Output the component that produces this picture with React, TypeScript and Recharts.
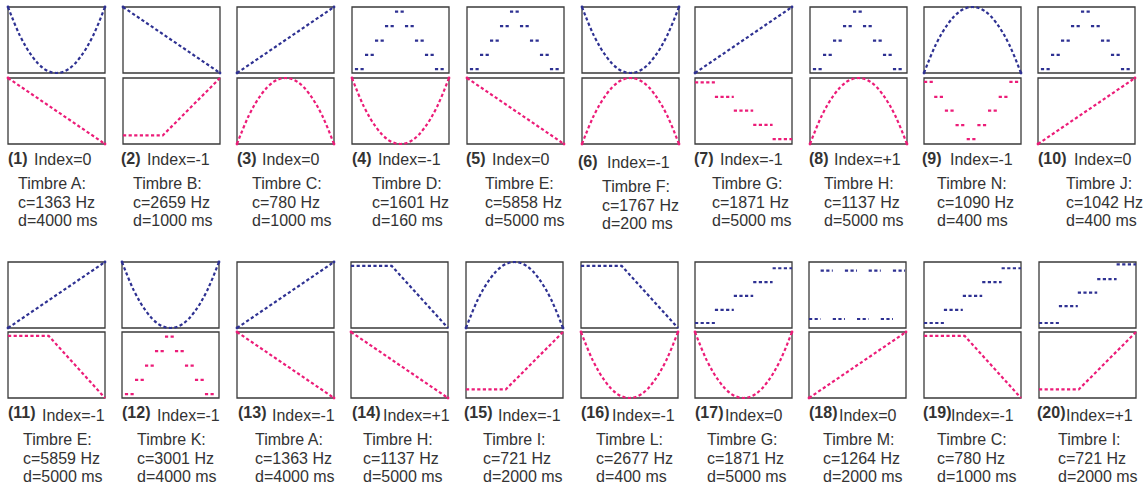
import { LineChart, Line, XAxis, YAxis, ReferenceArea } from 'recharts';

const BLUE = '#2e3192';
const PINK = '#ec1c78';
const INK = '#333333';

const curveX = [0, 0.125, 0.25, 0.375, 0.5, 0.625, 0.75, 0.875, 1];
const bowlY = [1, 0.56, 0.25, 0.06, 0, 0.06, 0.25, 0.56, 1];
const archY = [0, 0.44, 0.75, 0.94, 1, 0.94, 0.75, 0.44, 0];

const rampX = [0, 1];
const upY = [0, 1];
const downY = [1, 0];

const kneeRiseX = [0, 0.41, 1];
const kneeRiseY = [0.13, 0.13, 1];
const kneeFallX = [0, 0.42, 1];
const kneeFallY = [0.94, 0.94, 0];

// step shapes: segment edges + one level per segment
const pyramidEdges = [0.03, 0.134, 0.237, 0.34, 0.443, 0.546, 0.649, 0.752, 0.855, 0.958];
const pyramidY = [0.06, 0.275, 0.49, 0.71, 0.93, 0.71, 0.49, 0.275, 0.06];
const valleyEdges = [0, 0.105, 0.215, 0.325, 0.44, 0.55, 0.66, 0.77, 0.88, 0.99];
const valleyY = [0.94, 0.715, 0.505, 0.285, 0.075, 0.285, 0.505, 0.715, 0.94];
const stairEdges = [0, 0.205, 0.4, 0.6, 0.8, 1];
const stairDownY = [0.935, 0.715, 0.505, 0.29, 0.075];
const stairUpY = [0.076, 0.275, 0.487, 0.695, 0.905];
const stairUp2Y = [0.076, 0.33, 0.535, 0.74, 0.965];
const toggleEdges = [0, 0.12, 0.245, 0.37, 0.495, 0.615, 0.74, 0.865, 0.99];
const toggleY = [0.136, 0.87, 0.136, 0.87, 0.136, 0.87, 0.136, 0.87];

// per panel
const indexLabels = ['0', '-1', '0', '-1', '0', '-1', '-1', '+1', '-1', '0', '-1', '-1', '-1', '+1', '-1', '-1', '0', '0', '-1', '+1'];
const timbres = ['A', 'B', 'C', 'D', 'E', 'F', 'G', 'H', 'N', 'J', 'E', 'K', 'A', 'H', 'I', 'L', 'G', 'M', 'C', 'I'];
const centroidHz = [1363, 2659, 780, 1601, 5858, 1767, 1871, 1137, 1090, 1042, 5859, 3001, 1363, 1137, 721, 2677, 1871, 1264, 780, 721];
const durationMs = [4000, 1000, 1000, 160, 5000, 200, 5000, 5000, 400, 400, 5000, 4000, 4000, 5000, 2000, 400, 5000, 2000, 1000, 2000];
const topShape = ['bowl', 'down', 'up', 'pyramid', 'pyramid', 'bowl', 'up', 'pyramid', 'arch', 'pyramid', 'up', 'bowl', 'up', 'kneeFall', 'arch', 'kneeFall', 'stairUp', 'toggle', 'stairUp', 'stairUp2'];
const bottomShape = ['down', 'kneeRise', 'arch', 'bowl', 'down', 'arch', 'stairDown', 'arch', 'valley', 'up', 'kneeFall', 'pyramid', 'down', 'down', 'kneeRise', 'bowl', 'bowl', 'up', 'kneeFall', 'kneeRise'];

type Pt = { x: number; y: number | null };

const zipPts = (xs: number[], ys: number[]): Pt[] => xs.map((x, i) => ({ x, y: ys[i] }));
const stepPts = (edges: number[], ys: number[]): Pt[] =>
  ys.flatMap((y, i) => [
    { x: edges[i], y },
    { x: edges[i + 1], y },
    { x: edges[i + 1], y: null },
  ]);

const shapes: Record<string, { data: Pt[]; curve: 'linear' | 'monotone'; ends: boolean }> = {
  bowl: { data: zipPts(curveX, bowlY), curve: 'monotone', ends: true },
  arch: { data: zipPts(curveX, archY), curve: 'monotone', ends: true },
  up: { data: zipPts(rampX, upY), curve: 'linear', ends: true },
  down: { data: zipPts(rampX, downY), curve: 'linear', ends: true },
  kneeRise: { data: zipPts(kneeRiseX, kneeRiseY), curve: 'linear', ends: false },
  kneeFall: { data: zipPts(kneeFallX, kneeFallY), curve: 'linear', ends: false },
  pyramid: { data: stepPts(pyramidEdges, pyramidY), curve: 'linear', ends: false },
  valley: { data: stepPts(valleyEdges, valleyY), curve: 'linear', ends: false },
  stairDown: { data: stepPts(stairEdges, stairDownY), curve: 'linear', ends: false },
  stairUp: { data: stepPts(stairEdges, stairUpY), curve: 'linear', ends: false },
  stairUp2: { data: stepPts(stairEdges, stairUp2Y), curve: 'linear', ends: false },
  toggle: { data: stepPts(toggleEdges, toggleY), curve: 'linear', ends: false },
};

// layout
const BOX_W = 97;
const BOX_H = 66;
const PAD = 3;
const boxLeft = [8, 123, 237, 352, 467, 582, 695, 810, 924, 1038, 8, 122, 237, 351, 466, 581, 695, 809, 924, 1039];
const rowTop = [7, 262];
const rowBottom = [78, 332];
const numX = [8, 121, 237, 352, 466, 578, 694, 809, 922, 1038, 8, 122, 238, 352, 464, 581, 695, 809, 923, 1037];
const idxX = [34, 147, 262, 378, 492, 607, 720, 834, 950, 1074, 42, 157, 272, 383, 498, 612, 725, 839, 951, 1066];
const timX = [18, 133, 252, 372, 485, 602, 712, 824, 937, 1066, 23, 137, 255, 363, 483, 596, 707, 823, 937, 1058];
const numBase = [164, 418];
const idxBase = [165, 421];
const timBase = [[189, 208, 226], [445, 464, 482]];

function Mini({ left, top, shape, color }: { left: number; top: number; shape: string; color: string }) {
  const s = shapes[shape];
  const last = s.data.length - 1;
  const endDot = (p: any) =>
    s.ends && (p.index === 0 || p.index === last) ? (
      <circle key={p.index} cx={p.cx} cy={p.cy} r={1.4} fill={color} />
    ) : (
      <g key={p.index} />
    );
  return (
    <div style={{ position: 'absolute', left: left - PAD, top: top - PAD }}>
      <LineChart
        width={BOX_W + 2 * PAD}
        height={BOX_H + 2 * PAD}
        data={s.data}
        margin={{ top: PAD, right: PAD, bottom: PAD, left: PAD }}
      >
        <XAxis type="number" dataKey="x" domain={[0, 1]} hide />
        <YAxis type="number" domain={[0, 1]} hide />
        <ReferenceArea x1={0} x2={1} y1={0} y2={1} fill="none" stroke="#3a3a3a" strokeWidth={1.3} />
        <Line
          type={s.curve}
          dataKey="y"
          stroke={color}
          strokeWidth={2.2}
          strokeDasharray="3.2 2.4"
          dot={endDot}
          activeDot={false}
          connectNulls={false}
          isAnimationActive={false}
        />
      </LineChart>
    </div>
  );
}

export default function App() {
  const font = '"Liberation Sans", Arial, sans-serif';
  return (
    <div style={{ position: 'absolute', left: 0, top: 0, width: 1144, height: 489, background: '#fff', overflow: 'hidden' }}>
      {boxLeft.map((x, i) => {
        const row = i < 10 ? 0 : 1;
        return (
          <div key={i}>
            <Mini left={x} top={rowTop[row]} shape={topShape[i]} color={BLUE} />
            <Mini left={x} top={rowBottom[row]} shape={bottomShape[i]} color={PINK} />
          </div>
        );
      })}
      <svg width={1144} height={489} style={{ position: 'absolute', left: 0, top: 0, pointerEvents: 'none' }}>
        {timbres.map((t, i) => {
          const row = i < 10 ? 0 : 1;
          const dy = i === 5 ? 3 : 0;
          return (
            <g key={i} fontFamily={font} fontSize={16} fill={INK}>
              <text x={numX[i]} y={numBase[row] + dy} fontWeight="bold">({i + 1})</text>
              <text x={idxX[i]} y={idxBase[row] + dy}>Index={indexLabels[i]}</text>
              <text x={timX[i]} y={timBase[row][0] + dy}>Timbre {t}:</text>
              <text x={timX[i]} y={timBase[row][1] + dy}>c={centroidHz[i]} Hz</text>
              <text x={timX[i]} y={timBase[row][2] + dy}>d={durationMs[i]} ms</text>
            </g>
          );
        })}
      </svg>
    </div>
  );
}
